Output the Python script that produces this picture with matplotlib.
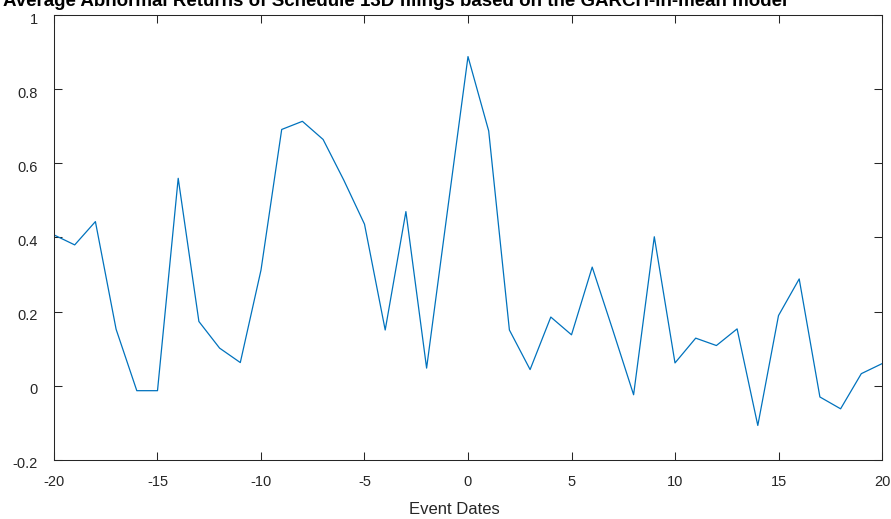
import numpy as np
import matplotlib
matplotlib.use("Agg")
import matplotlib.pyplot as plt
from matplotlib.transforms import ScaledTranslation

plt.rcParams['font.family'] = ['Liberation Sans', 'DejaVu Sans']

# event window and average abnormal returns
event_dates = list(range(-20, 21))
aar = [0.407, 0.380, 0.443, 0.152, -0.014, -0.014, 0.560, 0.173, 0.101, 0.062,
       0.312, 0.692, 0.714, 0.665, 0.555, 0.436, 0.150, 0.470, 0.047, 0.469,
       0.889, 0.688, 0.150, 0.043, 0.185, 0.137, 0.320, 0.149, -0.025, 0.402,
       0.061, 0.128, 0.108, 0.153, -0.108, 0.189, 0.288, -0.031, -0.063, 0.032,
       0.059]
x_ticks = [-20, -15, -10, -5, 0, 5, 10, 15, 20]
x_labels = ['-20', '-15', '-10', '-5', '0', '5', '10', '15', '20']
y_ticks = [-0.2, 0, 0.2, 0.4, 0.6, 0.8, 1]
y_labels = ['-0.2', '0', '0.2', '0.4', '0.6', '0.8', '1']

W, H = 891, 519
fig = plt.figure(figsize=(W / 100, H / 100), dpi=100)
ax = fig.add_axes([54 / W, 1 - 459.5 / H, (882 - 54) / W, (459.5 - 15.5) / H])

ax.plot(event_dates, aar, color='#0072BD', lw=0.9)

ax.set_xlim(-20, 20)
ax.set_ylim(-0.2, 1)
ax.set_xticks(x_ticks)
ax.set_xticklabels(x_labels)
ax.set_yticks(y_ticks)
ax.set_yticklabels(y_labels)

edge = '#262626'
for s in ax.spines.values():
    s.set_color(edge)
    s.set_linewidth(0.75)
ax.tick_params(direction='in', length=5.5, width=0.75, colors=edge,
               labelsize=10.5, top=True, right=True, pad=11)
ax.tick_params(axis='y', pad=11.5)

# matlab puts the y labels a touch below the tick
shift = ScaledTranslation(0, -3 / 100, fig.dpi_scale_trans)
for lbl in ax.get_yticklabels():
    lbl.set_transform(lbl.get_transform() + shift)

ax.set_xlabel('Event Dates', fontsize=12, color=edge)
ax.xaxis.set_label_coords((454 - 54) / (882 - 54), -0.095)

fig.text(3 / W, 1 - 6.5 / H, 'Average Abnormal Returns of Schedule 13D filings based on the GARCH-in-mean model',
         fontsize=13.5, fontweight='bold', ha='left', va='baseline', color='black')

fig.savefig('out.png', dpi=100)
